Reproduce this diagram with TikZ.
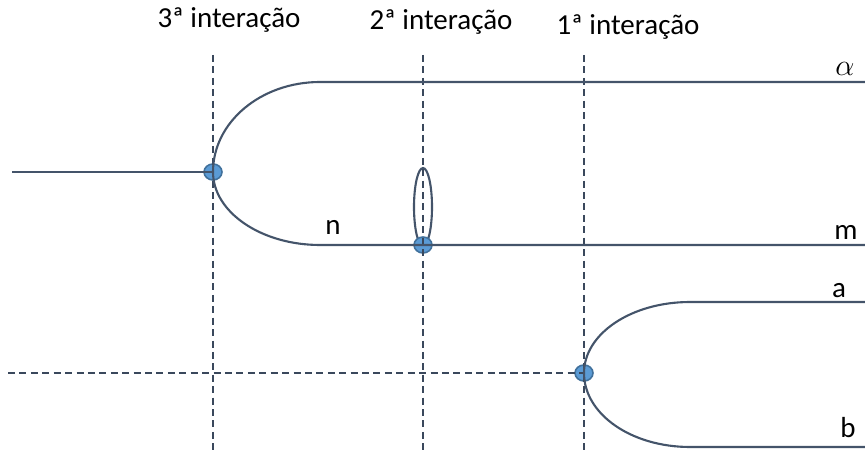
\documentclass[tikz,border=0pt]{standalone}
\usepackage{fontspec}
\setmainfont{Carlito}
\usepackage{tikz}
\usetikzlibrary{positioning,shapes.geometric}
\definecolor{wireblue}{RGB}{68,84,106}
\definecolor{guidegray}{RGB}{58,72,92}
\definecolor{dotfill}{RGB}{91,155,213}
\definecolor{dotdraw}{RGB}{65,113,156}

\begin{document}
\begin{tikzpicture}[x=0.02cm, y=-0.02cm,
        wire/.style={draw=wireblue, line width=1.2pt},
        guide/.style={draw=guidegray, line width=0.9pt, dash pattern=on 4pt off 2.5pt},
        junc/.style={ellipse, draw=dotdraw, fill=dotfill, line width=0.9pt,
                   minimum width=18*0.02cm, minimum height=16*0.02cm, inner sep=0pt},
        loopbox/.style={ellipse, draw=wireblue, line width=1.2pt,
                   minimum width=18*0.02cm, minimum height=78*0.02cm, inner sep=0pt},
        stage/.style={font=\fontsize{16.5}{18}\selectfont, text=black},
        tag/.style={font=\fontsize{16.5}{18}\selectfont, text=black}
    ]
        \useasboundingbox (0,0) rectangle (865,452);

        % stage labels
        \node[stage] (lab3) at (229,20) {3ª interação};
        \node[stage] (lab2) at (441,22) {2ª interação};
        \node[stage] (lab1) at (628,27) {1ª interação};

        % junctions
        \node[junc] (j3) at (213,172) {};
        \node[loopbox] (loop) at (423,207) {};
        \node[junc] (j2) at (423,245) {};
        \node[junc] (j1) at (584,373) {};

        % guide lines
        \coordinate (g3t) at (213,55);  \coordinate (g3b) at (213,452);
        \coordinate (g2t) at (423,55);  \coordinate (g2b) at (423,452);
        \coordinate (g1t) at (584,55);  \coordinate (g1b) at (584,452);
        \draw[guide] (g3t) -- (g3b);
        \draw[guide] (g2t) -- (g2b);
        \draw[guide] (g1t) -- (g1b);

        % upper pair
        \coordinate (inL) at (12,172);
        \coordinate (alphaEnd) at (865,82);
        \coordinate (mEnd) at (865,245);
        \draw[wire] (inL) -- (j3.center);
        \draw[wire] (j3.center) .. controls (213,122) and (261,82) .. (320,82) -- (alphaEnd);
        \draw[wire] (j3.center) .. controls (213,212) and (261,245) .. (320,245) -- (j2.center) -- (mEnd);

        % lower pair
        \coordinate (inD) at (8,373);
        \coordinate (aEnd) at (865,302);
        \coordinate (bEnd) at (865,447);
        \draw[guide] (inD) -- (j1.center);
        \draw[wire] (j1.center) .. controls (584,334) and (631,302) .. (690,302) -- (aEnd);
        \draw[wire] (j1.center) .. controls (584,414) and (631,447) .. (690,447) -- (bEnd);

        % branch labels
        \node[tag] (tn) at (333,227) {n};
        \node[tag, font=\fontsize{19}{20}\selectfont] (talpha) at (845,69) {$\alpha$};
        \node[tag] (tm) at (846,232) {m};
        \node[tag] (ta) at (839,291) {a};
        \node[tag] (tb) at (848,428) {b};
    \end{tikzpicture}
\end{document}
